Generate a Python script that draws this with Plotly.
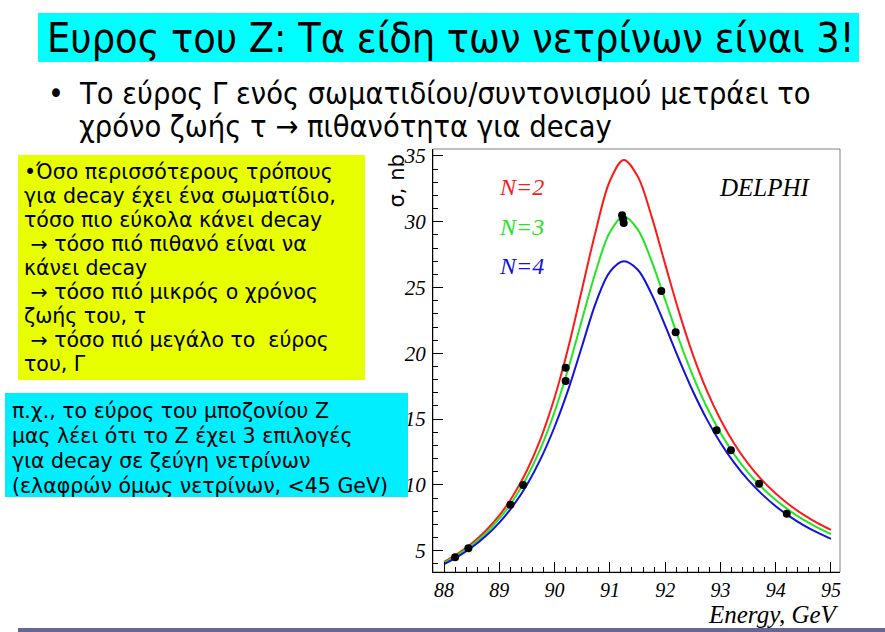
import plotly.graph_objects as go

# ---------------- data ----------------
energy_grid = [88.0, 88.25, 88.5, 88.75, 89.0, 89.25, 89.5, 89.75, 90.0, 90.25, 90.5, 90.75,
               91.0, 91.25, 91.5, 91.75, 92.0, 92.25, 92.5, 92.75, 93.0, 93.25, 93.5, 93.75,
               94.0, 94.25, 94.5, 94.75, 95.0]
sigma_n2 = [4.16, 4.79, 5.55, 6.50, 7.68, 9.19, 11.10, 13.54, 16.64, 20.48, 24.95, 29.40,
            33.10, 34.70, 33.47, 30.47, 26.78, 23.15, 19.92, 17.20, 14.97, 13.13, 11.62, 10.37,
            9.34, 8.47, 7.74, 7.11, 6.58]
sigma_n3 = [4.08, 4.68, 5.41, 6.31, 7.43, 8.83, 10.60, 12.81, 15.56, 18.88, 22.63, 26.30,
            29.20, 30.40, 29.44, 27.07, 24.07, 21.05, 18.30, 15.94, 13.96, 12.31, 10.94, 9.81,
            8.85, 8.05, 7.36, 6.78, 6.27]
sigma_n4 = [3.98, 4.55, 5.24, 6.09, 7.13, 8.42, 10.02, 12.00, 14.42, 17.28, 20.60, 23.90,
            26.20, 27.00, 26.37, 24.54, 22.11, 19.55, 17.14, 15.02, 13.20, 11.67, 10.38, 9.30,
            8.38, 7.61, 6.95, 6.39, 5.90]

data_energy = [88.2, 88.44, 89.2, 89.43, 90.2, 90.2, 91.22, 91.24, 91.25, 91.93, 92.19,
               92.93, 93.19, 93.70, 94.20]
data_sigma = [4.5, 5.18, 8.5, 10.0, 18.9, 17.9, 30.5, 30.2, 29.9, 24.74, 21.6,
              14.16, 12.64, 10.08, 7.8]

x_ticks = [88, 89, 90, 91, 92, 93, 94, 95]
y_ticks = [5, 10, 15, 20, 25, 30, 35]

curve_names = ["N=2", "N=3", "N=4"]
curve_colors = ["#ff1a1a", "#22e622", "#1212dd"]

title_text = "Ευρος του Z: Τα είδη των νετρίνων είναι 3!"
bullet_lines = ["Το εύρος Γ ενός σωματιδίου/συντονισμού μετράει το",
                "χρόνο ζωής τ → πιθανότητα για decay"]
yellow_lines = ["•Όσο περισσότερους τρόπους",
                "για decay έχει ένα σωματίδιο,",
                "τόσο πιο εύκολα κάνει decay",
                " → τόσο πιό πιθανό είναι να",
                "κάνει decay",
                " → τόσο πιό μικρός ο χρόνος",
                "ζωής του, τ",
                " → τόσο πιό μεγάλο το  εύρος",
                "του, Γ"]
cyan_lines = ["π.χ., το εύρος του μποζονίου Z",
              "μας λέει ότι το Z έχει 3 επιλογές",
              "για decay σε ζεύγη νετρίνων",
              "(ελαφρών όμως νετρίνων, <45 GeV)"]

# ---------------- layout helpers ----------------
W, H = 885, 632
PL, PR, PT, PB = 433, 840, 149, 572  # plot area in pixels


def px(x):
    return (x - PL) / (PR - PL)


def py(y):
    return (PB - y) / (PB - PT)


fig = go.Figure()
for ys, name, col in zip([sigma_n2, sigma_n3, sigma_n4], curve_names, curve_colors):
    fig.add_trace(go.Scatter(x=energy_grid, y=ys, mode="lines", name=name,
                             line=dict(color=col, width=2, shape="spline", smoothing=1.0),
                             showlegend=False))
fig.add_trace(go.Scatter(x=data_energy, y=data_sigma, mode="markers",
                         marker=dict(color="black", size=8), showlegend=False))

serif = "Liberation Serif"
fig.update_xaxes(range=[87.80, 95.163], tickvals=x_ticks, ticks="inside", ticklen=10,
                 tickcolor="black", showline=True, linecolor="black", linewidth=1,
                 showgrid=False, zeroline=False,
                 tickfont=dict(family=serif, size=20, color="black", style="italic"),
                 minor=dict(dtick=0.2, tick0=88, ticks="inside", ticklen=5, tickcolor="black"))
fig.update_yaxes(range=[3.381, 35.53], tickvals=y_ticks, ticks="inside", ticklen=10,
                 tickcolor="black", showline=True, linecolor="black", linewidth=1,
                 showgrid=False, zeroline=False, ticklabelstandoff=2,
                 tickfont=dict(family=serif, size=21, color="black", style="italic"),
                 minor=dict(dtick=1, tick0=5, ticks="inside", ticklen=5, tickcolor="black"))

shapes = []
# plot frame (top/right gray)
shapes.append(dict(type="rect", xref="paper", yref="paper", x0=0, x1=1, y0=0, y1=1,
                   line=dict(color="#808080", width=1), layer="below"))
# title box
shapes.append(dict(type="rect", xref="paper", yref="paper", x0=px(38), x1=px(859),
                   y0=py(62), y1=py(13), fillcolor="#00ffff", line=dict(width=0)))
# yellow box
shapes.append(dict(type="rect", xref="paper", yref="paper", x0=px(18), x1=px(365),
                   y0=py(380), y1=py(155), fillcolor="#e8ff00", line=dict(width=0)))
# cyan box
shapes.append(dict(type="rect", xref="paper", yref="paper", x0=px(5), x1=px(408),
                   y0=py(497), y1=py(393), fillcolor="#00eeff", line=dict(width=0)))
# bottom bar
shapes.append(dict(type="rect", xref="paper", yref="paper", x0=px(18), x1=px(885),
                   y0=py(632), y1=py(628), fillcolor="#666699", line=dict(width=0)))

ann = []


def text(t, x, y, size, family="DejaVu Sans", color="black", xanchor="left",
         style="normal", angle=0, yanchor="middle"):
    ann.append(dict(text=t, x=px(x), y=py(y), xref="paper", yref="paper",
                    xanchor=xanchor, yanchor=yanchor, showarrow=False, textangle=angle,
                    font=dict(family=family, size=size, color=color, style=style)))


text(title_text, 45, 38, 41, family="DejaVu Sans Condensed")
text("•", 46, 94, 30, family="DejaVu Sans Condensed")
text(bullet_lines[0], 77, 94, 30.5, family="DejaVu Sans Condensed")
text(bullet_lines[1], 77, 126, 30.5, family="DejaVu Sans Condensed")
for i, line in enumerate(yellow_lines):
    text(line, 22, 172 + 24 * i, 20.5)
for i, line in enumerate(cyan_lines):
    text(line, 10, 411 + 25 * i, 20.5)

# chart labels
text("σ, nb", 396, 153, 21, angle=-90, xanchor="center", yanchor="top")
text("Energy, GeV", 841, 614, 25, family=serif, style="italic", xanchor="right")
text("DELPHI", 765, 187, 25, family=serif, style="italic", xanchor="center")
for i, (name, col) in enumerate(zip(curve_names, curve_colors)):
    text(name, 497, 187 + 39.5 * i, 24, family=serif, color=col, style="italic")

fig.update_layout(width=W, height=H, margin=dict(l=PL, r=W - PR, t=PT, b=H - PB),
                  paper_bgcolor="white", plot_bgcolor="white",
                  shapes=shapes, annotations=ann)

fig.write_html("out.html")
